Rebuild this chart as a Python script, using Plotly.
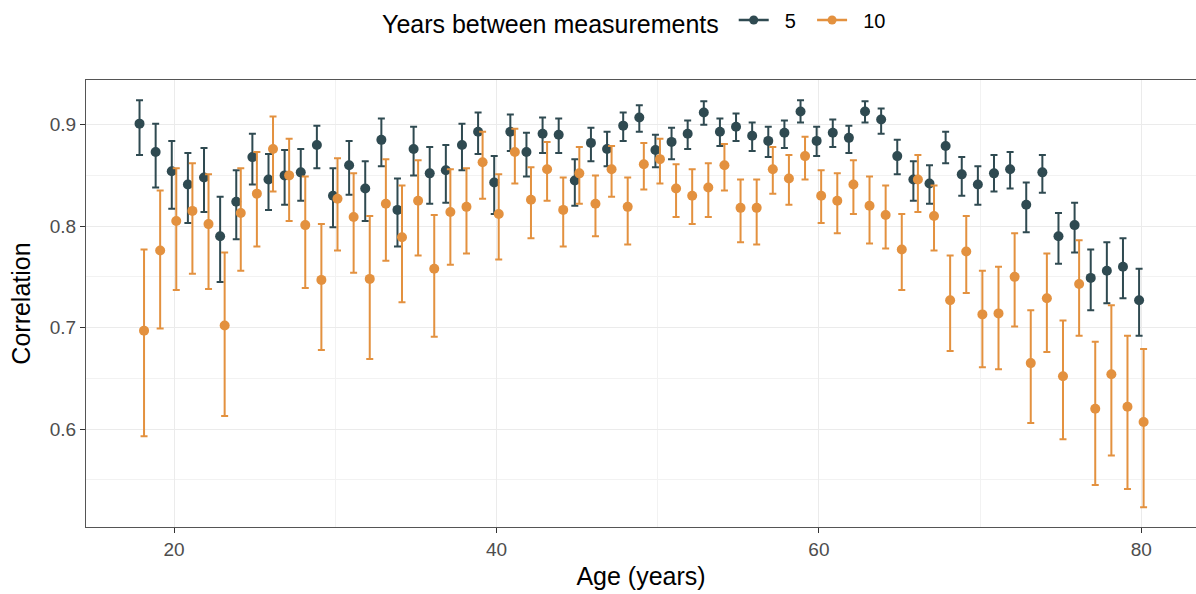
import plotly.graph_objects as go

# Age at first measurement
ages = list(range(18, 81))

# 5-year retest correlations with interval bounds
corr_5 = [0.901, 0.873, 0.854, 0.841, 0.848, 0.790, 0.824, 0.868, 0.846, 0.850,
          0.853, 0.880, 0.830, 0.860, 0.837, 0.885, 0.816, 0.876, 0.852, 0.855,
          0.880, 0.893, 0.843, 0.893, 0.873, 0.891, 0.890, 0.845, 0.882, 0.876,
          0.899, 0.907, 0.875, 0.883, 0.891, 0.912, 0.893, 0.898, 0.889, 0.884,
          0.892, 0.913, 0.884, 0.892, 0.887, 0.913, 0.905, 0.869, 0.846, 0.842,
          0.879, 0.851, 0.841, 0.852, 0.856, 0.821, 0.853, 0.790, 0.801, 0.749,
          0.756, 0.760, 0.727]
lo_5 = [0.870, 0.838, 0.817, 0.803, 0.814, 0.745, 0.787, 0.841, 0.816, 0.821,
        0.825, 0.857, 0.799, 0.831, 0.805, 0.859, 0.780, 0.850, 0.822, 0.823,
        0.855, 0.871, 0.812, 0.874, 0.849, 0.872, 0.872, 0.820, 0.864, 0.859,
        0.884, 0.893, 0.858, 0.866, 0.876, 0.900, 0.879, 0.884, 0.874, 0.868,
        0.877, 0.902, 0.869, 0.878, 0.872, 0.902, 0.891, 0.851, 0.825, 0.822,
        0.862, 0.830, 0.821, 0.834, 0.837, 0.794, 0.833, 0.763, 0.774, 0.717,
        0.724, 0.729, 0.692]
hi_5 = [0.924, 0.901, 0.884, 0.872, 0.877, 0.829, 0.855, 0.891, 0.871, 0.875,
        0.876, 0.899, 0.857, 0.884, 0.864, 0.906, 0.847, 0.898, 0.878, 0.880,
        0.901, 0.912, 0.869, 0.910, 0.892, 0.907, 0.906, 0.866, 0.897, 0.893,
        0.912, 0.919, 0.890, 0.897, 0.904, 0.923, 0.906, 0.911, 0.902, 0.898,
        0.904, 0.924, 0.898, 0.905, 0.899, 0.923, 0.916, 0.885, 0.864, 0.860,
        0.893, 0.868, 0.859, 0.870, 0.873, 0.843, 0.870, 0.813, 0.823, 0.777,
        0.784, 0.788, 0.758]

# 10-year retest correlations with interval bounds
corr_10 = [0.697, 0.776, 0.805, 0.815, 0.802, 0.702, 0.813, 0.832, 0.876, 0.850,
           0.801, 0.747, 0.827, 0.809, 0.748, 0.822, 0.789, 0.825, 0.758, 0.814,
           0.819, 0.863, 0.812, 0.873, 0.826, 0.856, 0.816, 0.852, 0.822, 0.856,
           0.819, 0.861, 0.866, 0.837, 0.830, 0.838, 0.860, 0.818, 0.818, 0.856,
           0.847, 0.869, 0.830, 0.825, 0.841, 0.820, 0.811, 0.777, 0.846, 0.810,
           0.727, 0.775, 0.713, 0.714, 0.750, 0.665, 0.729, 0.652, 0.743, 0.620,
           0.654, 0.622, 0.607]
lo_10 = [0.593, 0.699, 0.737, 0.753, 0.738, 0.613, 0.756, 0.780, 0.834, 0.805,
         0.739, 0.678, 0.776, 0.754, 0.669, 0.766, 0.725, 0.771, 0.691, 0.762,
         0.773, 0.827, 0.767, 0.842, 0.788, 0.825, 0.780, 0.822, 0.790, 0.829,
         0.782, 0.836, 0.842, 0.809, 0.802, 0.809, 0.835, 0.784, 0.782, 0.832,
         0.821, 0.846, 0.803, 0.793, 0.812, 0.783, 0.778, 0.737, 0.814, 0.776,
         0.677, 0.734, 0.661, 0.659, 0.701, 0.606, 0.676, 0.590, 0.692, 0.545,
         0.574, 0.541, 0.523]
hi_10 = [0.777, 0.835, 0.857, 0.862, 0.851, 0.774, 0.857, 0.873, 0.908, 0.886,
         0.849, 0.802, 0.867, 0.852, 0.810, 0.866, 0.840, 0.865, 0.811, 0.856,
         0.857, 0.893, 0.851, 0.896, 0.858, 0.883, 0.848, 0.878, 0.850, 0.879,
         0.848, 0.882, 0.886, 0.861, 0.856, 0.862, 0.881, 0.846, 0.846, 0.878,
         0.870, 0.888, 0.855, 0.852, 0.865, 0.849, 0.840, 0.812, 0.870, 0.840,
         0.771, 0.810, 0.756, 0.760, 0.793, 0.717, 0.773, 0.707, 0.786, 0.686,
         0.722, 0.692, 0.679]

x_ticks = [20, 40, 60, 80]
y_ticks = [0.6, 0.7, 0.8, 0.9]

DARK = "#2F4A51"
ORANGE = "#E3913F"
FONT = "Liberation Sans, Arial, sans-serif"
DODGE = 0.14
NBSP = "\u00a0"

fig = go.Figure()


def add_series(name, vals, lo, hi, color, shift):
    xs = [a + shift for a in ages]
    fig.add_trace(go.Scatter(
        x=xs, y=vals, mode="markers", showlegend=False, name=name,
        marker=dict(color=color, size=10, line=dict(width=0)),
        error_y=dict(type="data", symmetric=False,
                     array=[h - v for h, v in zip(hi, vals)],
                     arrayminus=[v - l for v, l in zip(vals, lo)],
                     color=color, thickness=2, width=3.5),
    ))
    # legend glyph: point with a horizontal stroke
    fig.add_trace(go.Scatter(
        x=[None], y=[None], mode="lines+markers", name=NBSP * 2 + name + NBSP * 2,
        line=dict(color=color, width=2.5),
        marker=dict(color=color, size=9),
    ))


add_series("5", corr_5, lo_5, hi_5, DARK, -DODGE)
add_series("10", corr_10, lo_10, hi_10, ORANGE, DODGE)

fig.update_layout(
    width=1196, height=594,
    margin=dict(l=86, r=0, t=80, b=67),
    plot_bgcolor="white", paper_bgcolor="white",
    font=dict(family=FONT, color="black"),
    legend=dict(
        orientation="h", x=0.5, xanchor="center", y=0.963, yanchor="middle",
        yref="container", xref="paper",
        title=dict(text="Years between measurements" + NBSP, side="left",
                   font=dict(size=25, color="black")),
        font=dict(size=20, color="black"),
        itemwidth=30, bgcolor="rgba(0,0,0,0)",
    ),
    xaxis=dict(
        title=dict(text="Age (years)", font=dict(size=25, color="black"), standoff=8),
        range=[14.54, 83.39], tickvals=x_ticks,
        tickfont=dict(size=19, color="#4D4D4D"),
        ticks="outside", ticklen=5, tickcolor="#333333", tickwidth=1,
        showgrid=True, gridcolor="#EBEBEB", gridwidth=1.4,
        minor=dict(dtick=10, tick0=0, showgrid=True, gridcolor="#F2F2F2", gridwidth=0.8),
        showline=True, linecolor="#555555", linewidth=1, mirror=True,
        zeroline=False,
    ),
    yaxis=dict(
        title=dict(text="Correlation", font=dict(size=25, color="black"), standoff=12),
        range=[0.5035, 0.944], tickvals=y_ticks,
        tickfont=dict(size=19, color="#4D4D4D"),
        ticks="outside", ticklen=5, tickcolor="#333333", tickwidth=1,
        showgrid=True, gridcolor="#EBEBEB", gridwidth=1.4,
        minor=dict(dtick=0.1, tick0=0.55, showgrid=True, gridcolor="#F2F2F2", gridwidth=0.8),
        showline=True, linecolor="#555555", linewidth=1, mirror=True,
        zeroline=False,
    ),
)

fig.write_html("out.html")
